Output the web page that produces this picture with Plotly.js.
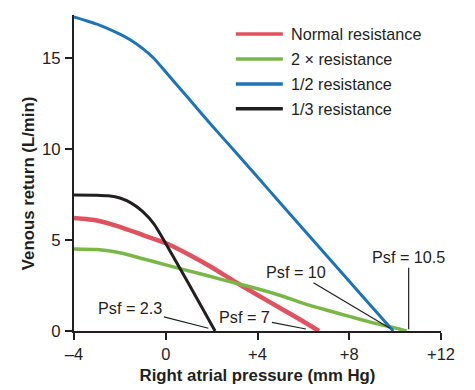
<!DOCTYPE html>
<html>
<head>
<meta charset="utf-8">
<script src="https://cdn.plot.ly/plotly-3.0.1.min.js"></script>
<style>html,body{margin:0;padding:0;background:#fff;}#chart{width:475px;height:390px;}</style>
</head>
<body>
<div id="chart"></div>
<script>
// Right atrial pressure (mm Hg) and venous return (L/min)
const normalX = [-4, -3, -2, -1, 0, 1, 2, 3, 4, 5, 6, 6.68];
const normalY = [6.2, 6.07, 5.72, 5.27, 4.83, 4.2, 3.5, 2.72, 1.98, 1.25, 0.52, 0];

const doubleX = [-4, -3, -2, -1, 0, 1, 2, 3, 4, 5, 6, 7, 8, 9, 10, 10.5];
const doubleY = [4.5, 4.47, 4.3, 3.97, 3.63, 3.3, 2.98, 2.64, 2.32, 1.95, 1.52, 1.15, 0.8, 0.46, 0.17, 0];

const halfX = [-4, -3, -2, -1.5, -1, -0.5, 0, 1, 2, 3, 4, 5, 6, 7, 8, 9, 9.92];
const halfY = [17.25, 16.85, 16.3, 15.95, 15.5, 14.95, 14.22, 12.76, 11.3, 9.88, 8.45, 7.02, 5.59, 4.16, 2.73, 1.3, 0];

const thirdX = [-4, -3, -2.5, -2, -1.5, -1, -0.5, 0, 1, 2.15];
const thirdY = [7.47, 7.46, 7.42, 7.3, 7.02, 6.55, 5.85, 4.8, 2.6, 0];

const seriesNames = ["Normal resistance", "2 \u00d7 resistance", "1/2 resistance", "1/3 resistance"];

const xTickVals = [-4, 0, 4, 8, 12];
const xTickText = ["\u20134", "0", "+4", "+8", "+12"];
const yTickVals = [0, 5, 10, 15];

const psfLabels = ["Psf = 2.3", "Psf = 7", "Psf = 10", "Psf = 10.5"];
const psfX = [1.86, 6.11, 9.77, 10.59];
const psfY = [0.15, 0.11, 0.15, 0.1];

const colors = ["#e0525f", "#79b746", "#1c74b8", "#231f20"];
const widths = [4.5, 3.5, 3, 3];
const xs = [normalX, doubleX, halfX, thirdX];
const ys = [normalY, doubleY, halfY, thirdY];
const FONT = "Liberation Sans, Arial, sans-serif";
const INK = "#231f20";

const traces = xs.map((x, i) => ({
  x: x, y: ys[i], name: seriesNames[i], type: "scatter", mode: "lines",
  line: {color: colors[i], width: widths[i], shape: "spline", smoothing: 0.5},
  cliponaxis: false, showlegend: false, hoverinfo: "skip"
}));

// Manual legend (sample line + label)
const legRows = [0.94, 0.861, 0.782, 0.703];
const shapes = legRows.map((yy, i) => ({
  type: "line", xref: "paper", yref: "paper",
  x0: 0.441, x1: 0.569, y0: yy, y1: yy,
  line: {color: colors[i], width: 3.5}
}));
const annotations = legRows.map((yy, i) => ({
  xref: "paper", yref: "paper", x: 0.586, y: yy, xanchor: "left", yanchor: "middle",
  text: seriesNames[i], showarrow: false,
  font: {family: FONT, size: 16.2, color: INK}
}));

const psfOffsets = [[-78, -20], [-61, -12], [-94, -56], [0, -72]];
psfLabels.forEach((t, i) => {
  annotations.push({
    x: psfX[i], y: psfY[i], xref: "x", yref: "y", text: t,
    showarrow: true, arrowhead: 0, arrowwidth: 1.2, arrowcolor: INK,
    ax: psfOffsets[i][0], ay: psfOffsets[i][1], standoff: 0,
    font: {family: FONT, size: 16.2, color: INK}
  });
});

// y-axis title
annotations.push({
  xref: "paper", yref: "paper", x: -0.125, y: 0.465, xanchor: "center", yanchor: "middle",
  textangle: -90, showarrow: false, text: "<b>Venous return (L/min)</b>",
  font: {family: FONT, size: 16.8, color: INK}
});

const layout = {
  width: 475, height: 390,
  margin: {l: 74, r: 34, t: 15, b: 59},
  paper_bgcolor: "#fff", plot_bgcolor: "#fff",
  font: {family: FONT, size: 16, color: INK},
  xaxis: {
    range: [-4, 12], showgrid: false, zeroline: false,
    showline: true, linecolor: INK, linewidth: 2,
    ticks: "outside", ticklen: 7, tickwidth: 2, tickcolor: INK,
    tickvals: xTickVals, ticktext: xTickText,
    tickfont: {size: 16.5, color: INK},
    title: {text: "<b>Right atrial pressure (mm Hg)</b>", font: {size: 16.8, color: INK}, standoff: 7}
  },
  yaxis: {
    range: [0, 17.35], showgrid: false, zeroline: false,
    showline: true, linecolor: INK, linewidth: 2,
    ticks: "outside", ticklen: 7, tickwidth: 2, tickcolor: INK,
    tickvals: yTickVals, ticklabelstandoff: 1,
    tickfont: {size: 16.8, color: INK}
  },
  shapes: shapes,
  annotations: annotations,
  showlegend: false
};

Plotly.newPlot("chart", traces, layout, {staticPlot: true, displayModeBar: false});
</script>
</body>
</html>
